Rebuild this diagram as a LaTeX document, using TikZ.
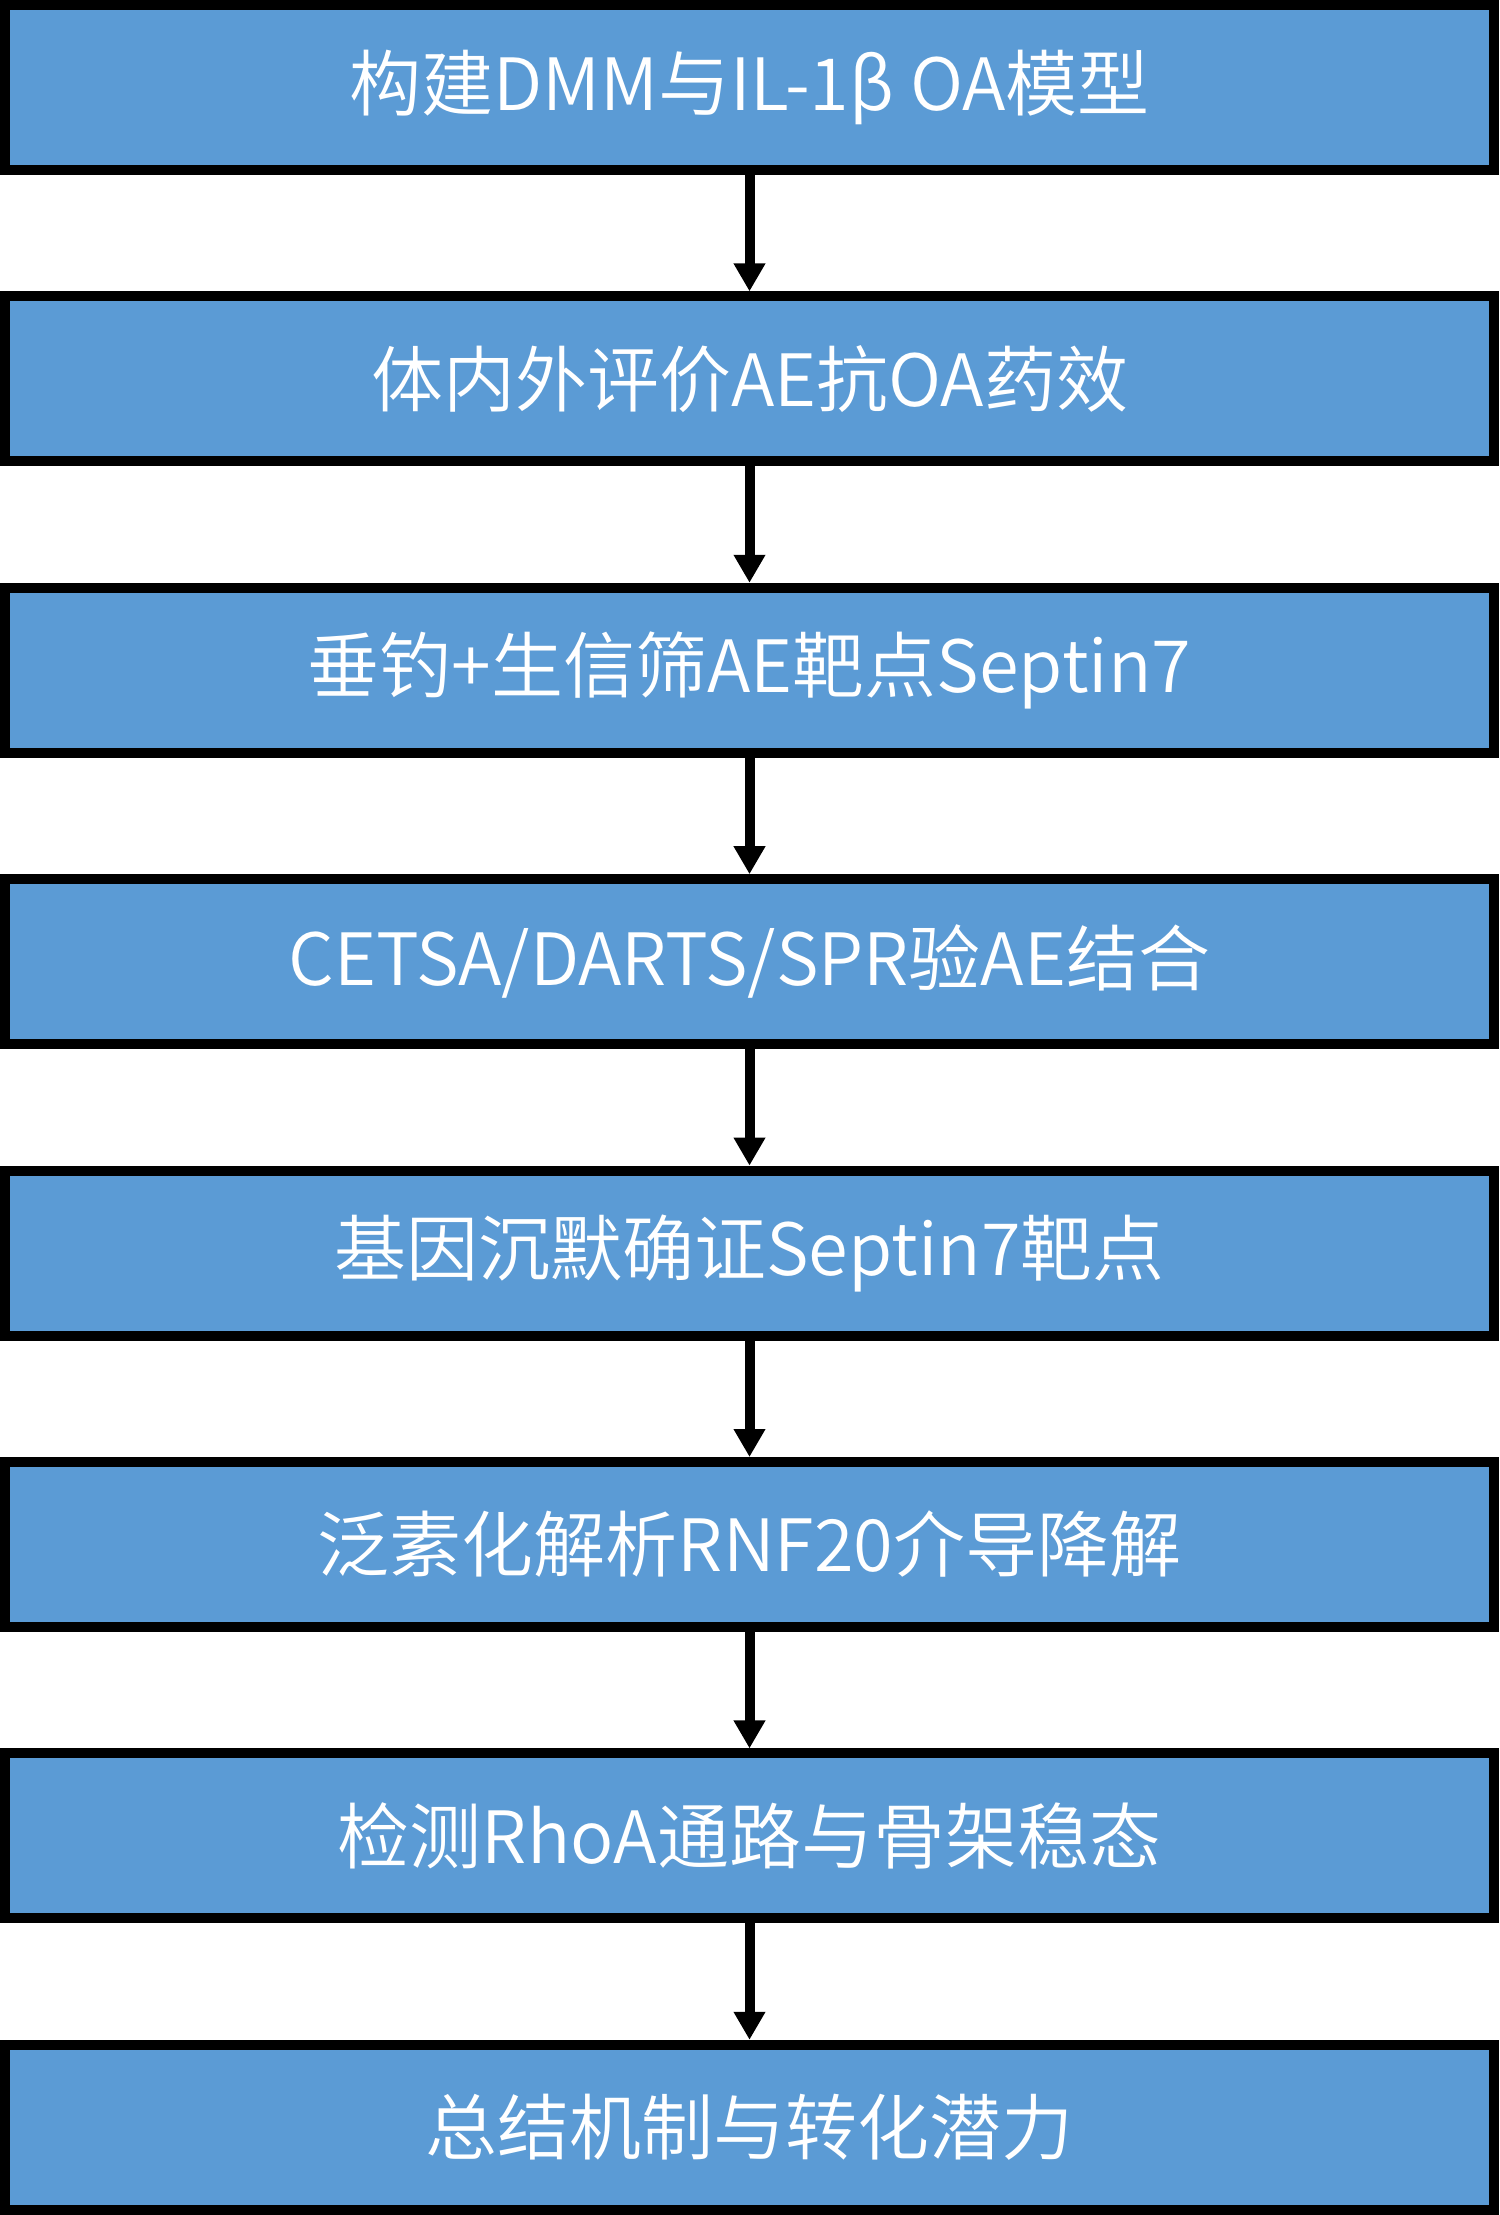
\documentclass[tikz,border=0pt]{standalone}
\usepackage{fontspec}
\setmainfont{Noto Sans CJK SC}[UprightFont=* DemiLight]
\usetikzlibrary{arrows.meta}
\definecolor{boxblue}{HTML}{5B9BD5}
\newcommand{\steptext}[1]{\raisebox{-4pt}{#1}}
\tikzset{
  stepbox/.style={draw=black, fill=boxblue, line width=10pt, inner sep=0pt,
    minimum width=1489pt, minimum height=165pt, text=white,
    font=\fontsize{72pt}{86pt}\selectfont},
  flowarrow/.style={draw=black, line width=10pt,
    -{Triangle[length=28pt,width=30pt]}}
}
\begin{document}
\begin{tikzpicture}[x=1pt,y=1pt]
\useasboundingbox (0,0) rectangle (1499,-2215);
\node[stepbox] (b1) at (749.5,{-(0*291.4+87.5)}) {\steptext{构建DMM与IL-1β OA模型}};
\node[stepbox] (b2) at (749.5,{-(1*291.4+87.5)}) {\steptext{体内外评价AE抗OA药效}};
\node[stepbox] (b3) at (749.5,{-(2*291.4+87.5)}) {\steptext{垂钓+生信筛AE靶点Septin7}};
\node[stepbox] (b4) at (749.5,{-(3*291.4+87.5)}) {\steptext{CETSA/DARTS/SPR验AE结合}};
\node[stepbox] (b5) at (749.5,{-(4*291.4+87.5)}) {\steptext{基因沉默确证Septin7靶点}};
\node[stepbox] (b6) at (749.5,{-(5*291.4+87.5)}) {\steptext{泛素化解析RNF20介导降解}};
\node[stepbox] (b7) at (749.5,{-(6*291.4+87.5)}) {\steptext{检测RhoA通路与骨架稳态}};
\node[stepbox] (b8) at (749.5,{-(7*291.4+87.5)}) {\steptext{总结机制与转化潜力}};
\foreach \a/\b in {b1/b2,b2/b3,b3/b4,b4/b5,b5/b6,b6/b7,b7/b8}
  \draw[flowarrow] (\a.south) -- (\b.north);
\end{tikzpicture}
\end{document}
